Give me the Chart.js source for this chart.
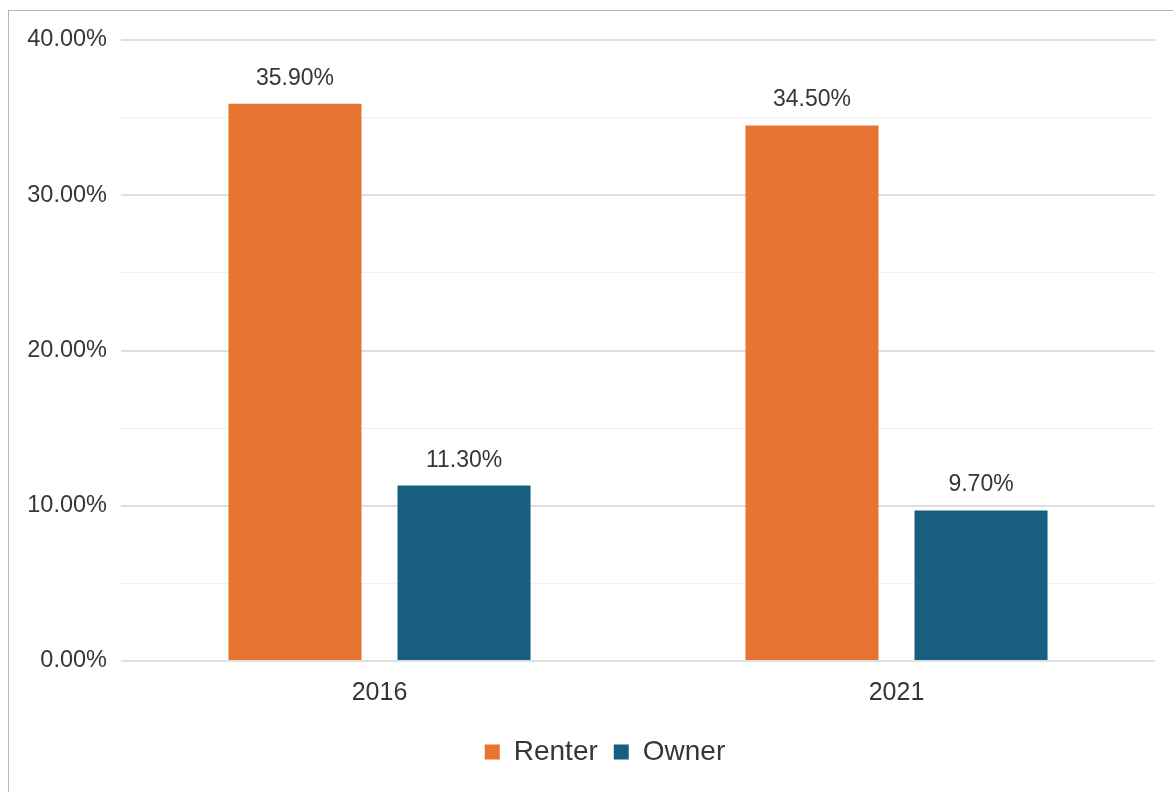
<!DOCTYPE html>
<html>
<head>
<meta charset="utf-8">
<script src="https://cdn.jsdelivr.net/npm/chart.js@4/dist/chart.umd.min.js"></script>
<style>
  body { margin: 0; background: #fff; overflow: hidden; }
  #box {
    position: absolute; left: 8px; top: 10px;
    width: 1200px; height: 800px;
    border-top: 1px solid #b5b5b5; border-left: 1px solid #b5b5b5;
  }
</style>
</head>
<body>
<div id="box"><canvas id="chart" width="1164" height="781"></canvas></div>
<script>
// donnees du graphique
var years = ["2016", "2021"];
var renter = [35.9, 34.5];
var owner = [11.3, 9.7];
var seriesNames = ["Renter", "Owner"];
var yTicks = [0, 10, 20, 30, 40];

var textColor = "#363636";
var fontFam = "'Liberation Sans', Arial, sans-serif";

// etiquettes au dessus des barres
var barLabels = {
    id: "barLabels",
    afterDatasetsDraw: function(chart) {
        var ctx = chart.ctx;
        ctx.save();
        ctx.font = "23px " + fontFam;
        ctx.fillStyle = textColor;
        ctx.textAlign = "center";
        ctx.textBaseline = "alphabetic";
        chart.data.datasets.forEach(function(ds, i) {
            chart.getDatasetMeta(i).data.forEach(function(bar, j) {
                ctx.fillText(ds.data[j].toFixed(2) + "%", bar.x, bar.y - 19);
            });
        });
        ctx.restore();
    }
};

// la legende est un peu decalee vers la droite dans l'original
var shiftLegend = {
    id: "shiftLegend",
    afterLayout: function(chart) {
        if (chart.legend) {
            chart.legend.left += 46;
        }
    }
};

new Chart(document.getElementById("chart"), {
    type: "bar",
    data: {
        labels: years,
        datasets: [
            { label: seriesNames[0], data: renter, backgroundColor: "#E87432",
              categoryPercentage: 0.654, barPercentage: 0.787 },
            { label: seriesNames[1], data: owner, backgroundColor: "#175E80",
              categoryPercentage: 0.654, barPercentage: 0.787 }
        ]
    },
    options: {
        responsive: false,
        animation: false,
        layout: { padding: { top: 29, right: 18, bottom: 16, left: 0 } },
        plugins: {
            tooltip: { enabled: false },
            legend: {
                position: "bottom",
                labels: {
                    boxWidth: 15, boxHeight: 15, padding: 16,
                    color: textColor,
                    font: { family: fontFam, size: 28 }
                }
            }
        },
        scales: {
            x: {
                grid: { display: false, drawTicks: false },
                border: { display: false },
                ticks: { color: textColor, padding: 17, font: { family: fontFam, size: 25 } },
                afterFit: function(scale) { scale.height = 61; }
            },
            y: {
                min: yTicks[0],
                max: yTicks[yTicks.length - 1],
                border: { display: false },
                grid: {
                    drawTicks: false,
                    color: function(c) { return c.tick && c.tick.value % 10 === 0 ? "#dedede" : "#f0f0f0"; },
                    lineWidth: function(c) { return c.tick && c.tick.value % 10 === 0 ? 2 : 1; }
                },
                ticks: {
                    stepSize: 5,
                    padding: 14,
                    color: textColor,
                    font: { family: fontFam, size: 23.5 },
                    callback: function(v) { return yTicks.indexOf(v) >= 0 ? v.toFixed(2) + "%" : ""; }
                },
                afterFit: function(scale) { scale.width = 112; }
            }
        }
    },
    plugins: [barLabels, shiftLegend]
});
</script>
</body>
</html>
